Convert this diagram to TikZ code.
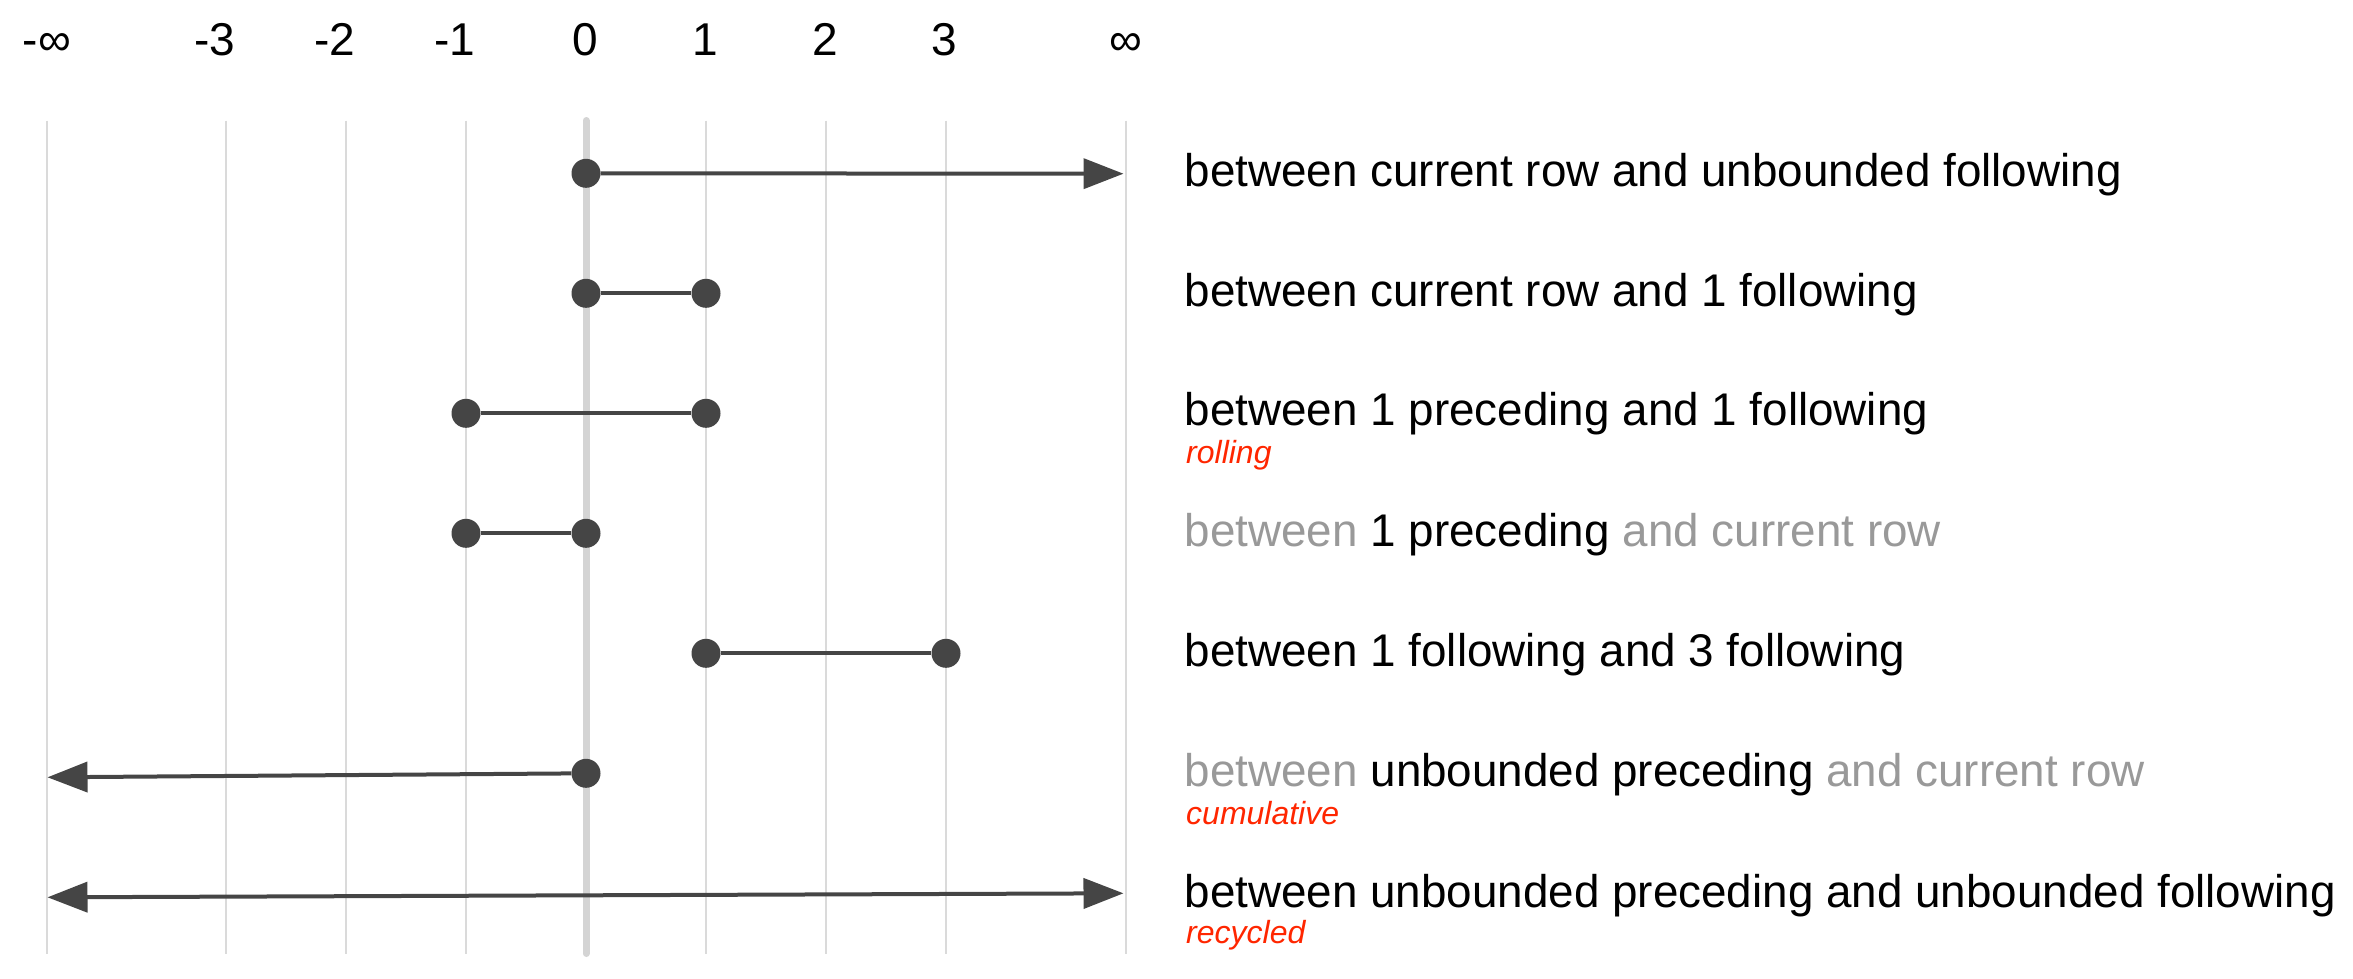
\documentclass[tikz,border=0pt]{standalone}
\usepackage{fontspec}
\setmainfont{Liberation Sans}
\usetikzlibrary{arrows.meta}

\definecolor{ink}{HTML}{454545}
\definecolor{gridc}{HTML}{DADADA}
\definecolor{zeroc}{HTML}{D4D4D4}
\definecolor{dimtxt}{HTML}{999999}
\definecolor{tagred}{HTML}{FF2600}

\tikzset{
  gridline/.style={draw=gridc, line width=2pt},
  zeroline/.style={draw=zeroc, line width=7pt, line cap=round},
  dot/.style={circle, fill=ink, inner sep=0pt, minimum size=29pt},
  seg/.style={draw=ink, line width=4pt},
  tip/.style={-{Triangle[length=40pt,width=30pt]}},
  tick/.style={anchor=base, inner sep=0pt, font=\fontsize{46}{55}\selectfont},
  rowtext/.style={anchor=base west, inner sep=0pt, font=\fontsize{45.8}{55}\selectfont},
  tag/.style={anchor=base west, inner sep=0pt, text=tagred, font=\fontsize{32}{38}\selectfont\itshape},
}

\begin{document}
\begin{tikzpicture}[x=1pt, y=-1pt]
\useasboundingbox (0,0) rectangle (2353,978);

% grid of positions
\foreach \gx in {46.5,226,346,466,706,826,946,1125.5}
  \draw[gridline] (\gx,120.7) -- (\gx,954);
\draw[zeroline] (586,120.5) -- (586,953.5);

% axis labels
\node[tick] (tninf) at (47,55)   {-∞};
\node[tick] (tm3)   at (215,55)  {-3};
\node[tick] (tm2)   at (335,55)  {-2};
\node[tick] (tm1)   at (455,55)  {-1};
\node[tick] (t0)    at (585,55)  {0};
\node[tick] (t1)    at (705,55)  {1};
\node[tick] (t2)    at (825,55)  {2};
\node[tick] (t3)    at (944,55)  {3};
\node[tick] (tinf)  at (1126,55) {∞};

% row 1: current row .. unbounded following
\node[dot] (a1) at (586,173.3) {};
\coordinate (e1) at (1123.5,173.7);
\draw[seg,tip] (a1) -- (e1);
\node[rowtext] (l1) at (1184.5,186.8) {between current row and unbounded following};

% row 2: current row .. 1 following
\node[dot] (a2) at (586,293.3) {};
\node[dot] (b2) at (706,293.3) {};
\draw[seg] (a2) -- (b2);
\node[rowtext] (l2) at (1184.5,306.8) {between current row and 1 following};

% row 3: 1 preceding .. 1 following
\node[dot] (a3) at (466,413.3) {};
\node[dot] (b3) at (706,413.3) {};
\draw[seg] (a3) -- (b3);
\node[rowtext] (l3) at (1184.5,425.5) {between 1 preceding and 1 following};
\node[tag] (g3) at (1186,463.3) {rolling};

% row 4: 1 preceding .. current row
\node[dot] (a4) at (466,533.3) {};
\node[dot] (b4) at (586,533.3) {};
\draw[seg] (a4) -- (b4);
\node[rowtext] (l4) at (1184.5,546.5) {\textcolor{dimtxt}{between} 1 preceding \textcolor{dimtxt}{and current row}};

% row 5: 1 following .. 3 following
\node[dot] (a5) at (706,653.3) {};
\node[dot] (b5) at (946,653.3) {};
\draw[seg] (a5) -- (b5);
\node[rowtext] (l5) at (1184.5,666.5) {between 1 following and 3 following};

% row 6: unbounded preceding .. current row
\node[dot] (a6) at (586,773.3) {};
\coordinate (e6) at (47.5,777.3);
\draw[seg,tip] (a6) -- (e6);
\node[rowtext] (l6) at (1184.5,786.7) {\textcolor{dimtxt}{between} unbounded preceding \textcolor{dimtxt}{and current row}};
\node[tag] (g6) at (1186,824.5) {cumulative};

% row 7: unbounded preceding .. unbounded following
\coordinate (s7) at (47.5,897.3);
\coordinate (e7) at (1123.5,893.3);
\draw[seg,{Triangle[length=40pt,width=30pt]}-{Triangle[length=40pt,width=30pt]}] (s7) -- (e7);
\node[rowtext] (l7) at (1184.5,907.5) {between unbounded preceding and unbounded following};
\node[tag] (g7) at (1186,943) {recycled};
\end{tikzpicture}
\end{document}
